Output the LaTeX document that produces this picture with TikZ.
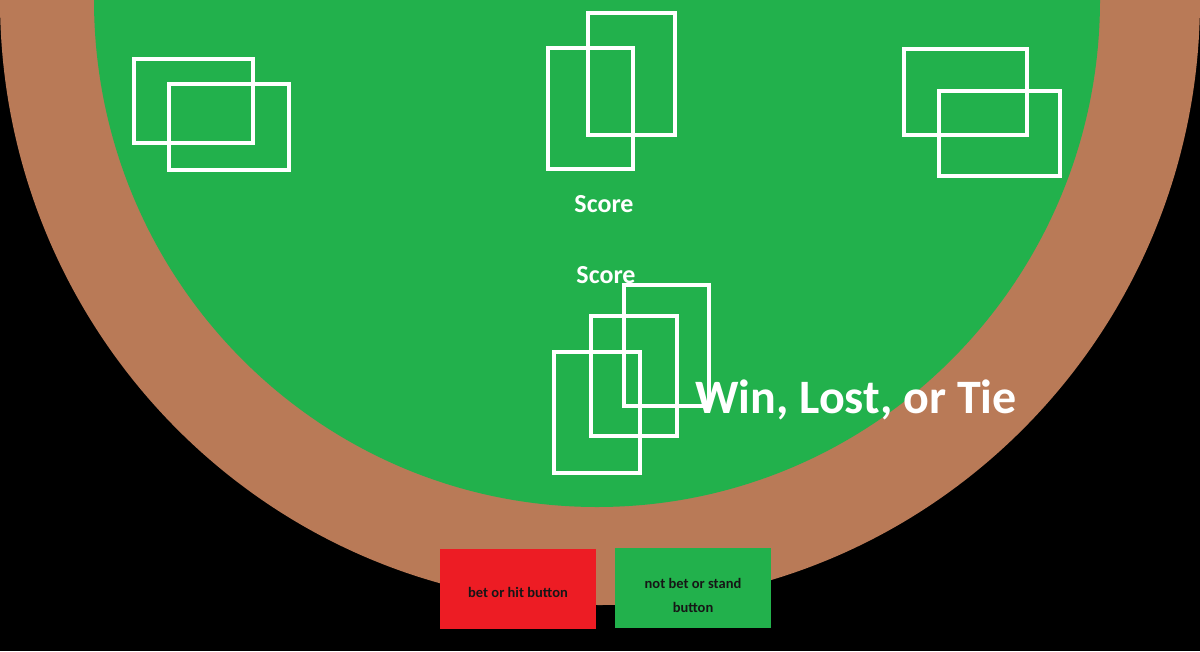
\documentclass[tikz,border=0pt]{standalone}
\usepackage{fontspec}
\setmainfont{Carlito}
\usepackage{xcolor}
\usetikzlibrary{positioning, calc}
\definecolor{tblFelt}{RGB}{34,177,76}
\definecolor{tblWood}{RGB}{185,122,87}
\definecolor{btnRed}{RGB}{237,28,36}
\definecolor{btnInk}{RGB}{22,22,22}

\begin{document}
\begin{tikzpicture}[x=1pt,y=-1pt,
  card/.style={draw=white,line width=4.6pt,inner sep=0pt,outer sep=0pt,anchor=north west},
  scorelbl/.style={text=white,font=\bfseries\fontsize{26}{30}\selectfont,inner sep=0pt},
  resultlbl/.style={text=white,font=\bfseries\fontsize{48}{50}\selectfont,inner sep=0pt,anchor=base west},
  btnbox/.style={minimum width=156pt,minimum height=80pt,inner sep=0pt},
  btnlbl/.style={text=btnInk,font=\bfseries\fontsize{14.5}{24}\selectfont,align=center,inner sep=0pt}]

% ===== background and table =====
\fill[black] (0,0) rectangle (1200,651);
\useasboundingbox (0,0) rectangle (1200,651);
\clip (0,0) rectangle (1200,651);
\fill[tblWood] (600,0) ellipse [x radius=600, y radius=605];
\fill[tblFelt] (597,0) ellipse [x radius=503, y radius=507];

% ===== dealer and side hands =====
\node[card,minimum width=119pt,minimum height=84pt] (l1) at (134,59) {};
\node[card,minimum width=120pt,minimum height=86pt] (l2) at (169,84) {};
\node[card,minimum width=87pt,minimum height=122pt] (d1) at (588,13) {};
\node[card,minimum width=85pt,minimum height=121pt] (d2) at (548,48) {};
\node[card,minimum width=123pt,minimum height=86pt] (r1) at (904,49) {};
\node[card,minimum width=121pt,minimum height=85pt] (r2) at (939,91) {};

% Scores
\node[scorelbl] (dscore) at (604,204) {Score};
\node[scorelbl] (pscore) at (606,275) {Score};

% ===== player hand =====
\node[card,minimum width=85pt,minimum height=121pt] (p1) at (624,285) {};
\node[card,minimum width=86pt,minimum height=120pt] (p2) at (591,316) {};
\node[card,minimum width=86pt,minimum height=121pt] (p3) at (554,352) {};
\node[resultlbl] (result) at (695,413) {Win, Lost, or Tie};

% ===== buttons =====
\node[btnbox,fill=btnRed] (hit) at (518,589) {};
\node[btnbox,fill=tblFelt] (stand) at (693,588) {};
\node[btnlbl] (hitlbl) at ($(hit.center)+(0,3)$) {bet or hit button};
\node[btnlbl] (standlbl) at ($(stand.center)+(0,7)$) {not bet or stand\\button};
\end{tikzpicture}
\end{document}
